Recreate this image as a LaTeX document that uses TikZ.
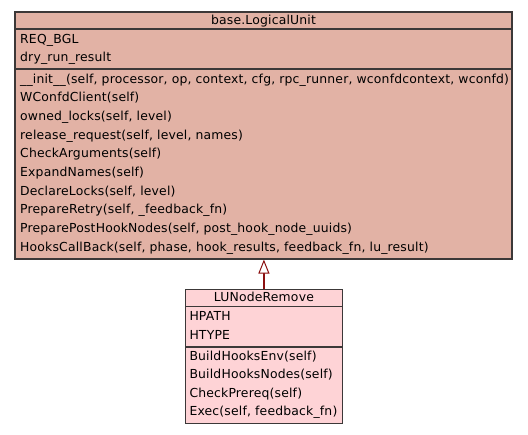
\documentclass[tikz,border=0pt]{standalone}
\usepackage{fontspec}
\setmainfont{DejaVu Sans}[LetterSpace=1.45]
\usetikzlibrary{arrows.meta}
\definecolor{bigfill}{RGB}{226,178,165}
\definecolor{smallfill}{RGB}{254,211,214}
\definecolor{edgecol}{RGB}{60,56,56}
\definecolor{arrowcol}{RGB}{139,16,16}
\tikzset{
  classbox/.style={draw=edgecol, line width=1.1pt, inner sep=0pt},
  rowtext/.style={anchor=mid west, inner sep=0pt, yshift=-1.6pt, font=\fontsize{12.4}{14}\selectfont},
  titletext/.style={anchor=mid, inner sep=0pt, yshift=-1.6pt, font=\fontsize{12.4}{14}\selectfont},
  sepline/.style={draw=edgecol, line width=1.1pt},
  inherit/.style={draw=arrowcol, line width=1.6pt, -{Triangle[open, width=11pt, length=14pt, line width=1pt, fill=white]}}
}
\begin{document}
\begin{tikzpicture}[x=1pt,y=-1pt]
\useasboundingbox[fill=white] (0,0) rectangle (528,435);
% big class
\node[classbox, fill=bigfill, minimum width=497pt, minimum height=247pt] (lu) at (263.5,135.5) {};
\draw[sepline] (15,29) -- (512,29);
\draw[sepline] (15,69) -- (512,69);
\node[titletext] (lut) at (263.5,20.5) {base.LogicalUnit};
\node[rowtext] (a1) at (20,39) {REQ\_BGL};
\node[rowtext] (a2) at (20,57.6) {dry\_run\_result};
\node[rowtext] (m1) at (20,79) {\_\_init\_\_(self, processor, op, context, cfg, rpc\_runner, wconfdcontext, wconfd)};
\node[rowtext] (m2) at (20,97.6) {WConfdClient(self)};
\node[rowtext] (m3) at (20,116.3) {owned\_locks(self, level)};
\node[rowtext] (m4) at (20,134.9) {release\_request(self, level, names)};
\node[rowtext] (m5) at (20,153.5) {CheckArguments(self)};
\node[rowtext] (m6) at (20,172.2) {ExpandNames(self)};
\node[rowtext] (m7) at (20,190.8) {DeclareLocks(self, level)};
\node[rowtext] (m8) at (20,209.4) {PrepareRetry(self, \_feedback\_fn)};
\node[rowtext] (m9) at (20,228.0) {PreparePostHookNodes(self, post\_hook\_node\_uuids)};
\node[rowtext] (m10) at (20,246.7) {HooksCallBack(self, phase, hook\_results, feedback\_fn, lu\_result)};
% small class
\node[classbox, fill=smallfill, minimum width=157.5pt, minimum height=134pt] (lnr) at (263.9,356.3) {};
\draw[sepline] (185,306.7) -- (342.7,306.7);
\draw[sepline] (185,347) -- (342.7,347);
\node[titletext] (lnrt) at (263.9,297) {LUNodeRemove};
\node[rowtext] (b1) at (189.3,316.3) {HPATH};
\node[rowtext] (b2) at (189.3,335) {HTYPE};
\node[rowtext] (n1) at (189.3,355.7) {BuildHooksEnv(self)};
\node[rowtext] (n2) at (189.3,374.3) {BuildHooksNodes(self)};
\node[rowtext] (n3) at (189.3,393) {CheckPrereq(self)};
\node[rowtext] (n4) at (189.3,411.5) {Exec(self, feedback\_fn)};
% inheritance
\draw[inherit] (lnr.north) -- (lnr.north |- lu.south);
\end{tikzpicture}
\end{document}
